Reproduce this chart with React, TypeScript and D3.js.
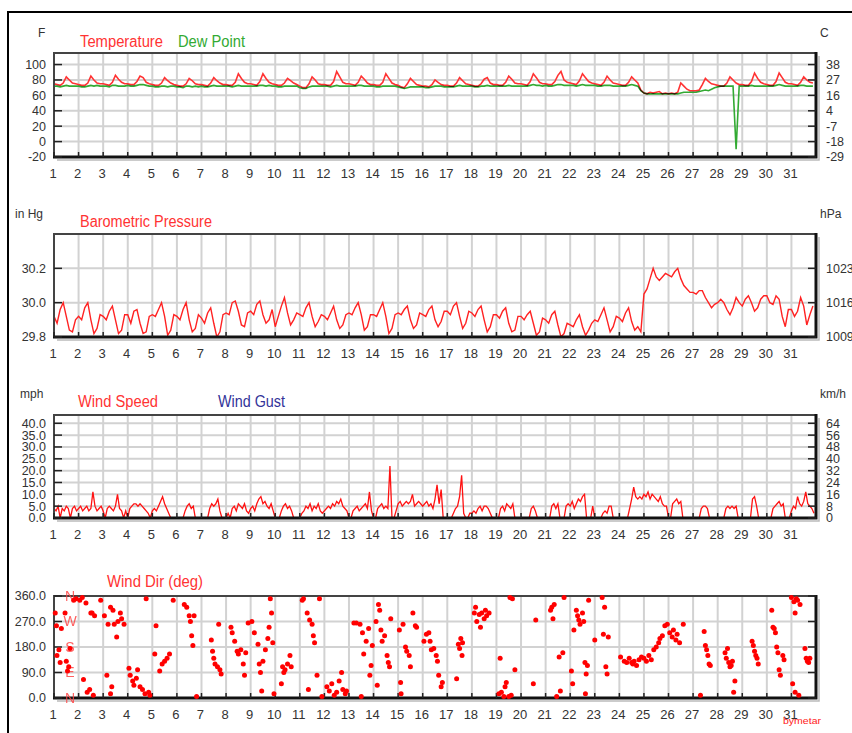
import React, { useEffect, useRef } from 'react';
import * as d3 from 'd3';

// one row per day, samples every 3 hours (0h..21h)
const tempF = [
  [75, 74, 73, 76, 84, 80, 76, 75],
  [74, 73, 73, 76, 85, 80, 76, 75],
  [75, 74, 73, 77, 86, 81, 77, 75],
  [75, 74, 74, 78, 85, 83, 77, 75],
  [74, 73, 73, 76, 83, 79, 76, 74],
  [73, 72, 72, 75, 82, 79, 75, 74],
  [74, 73, 72, 76, 83, 79, 76, 74],
  [74, 73, 73, 77, 88, 82, 77, 75],
  [75, 74, 73, 78, 88, 82, 77, 75],
  [74, 73, 73, 76, 82, 79, 76, 74],
  [72, 70, 70, 75, 84, 80, 75, 74],
  [74, 73, 73, 78, 91, 84, 77, 75],
  [75, 74, 73, 77, 85, 81, 76, 74],
  [74, 73, 73, 77, 88, 82, 76, 74],
  [73, 71, 70, 75, 82, 78, 74, 73],
  [72, 72, 71, 74, 80, 77, 74, 73],
  [73, 72, 72, 76, 83, 79, 75, 74],
  [73, 72, 72, 75, 81, 83, 76, 74],
  [74, 73, 73, 77, 85, 81, 76, 75],
  [75, 74, 73, 78, 88, 83, 77, 75],
  [75, 74, 74, 78, 86, 91, 80, 77],
  [76, 75, 74, 79, 88, 83, 78, 76],
  [75, 74, 73, 77, 85, 80, 76, 75],
  [74, 73, 73, 77, 84, 80, 76, 67],
  [63, 62, 64, 63, 64, 65, 62, 63],
  [62, 63, 62, 64, 76, 72, 68, 66],
  [66, 66, 67, 74, 82, 78, 75, 74],
  [73, 72, 72, 76, 84, 80, 76, 74],
  [74, 73, 73, 78, 89, 82, 77, 75],
  [74, 73, 73, 78, 89, 83, 77, 75],
  [75, 74, 73, 77, 84, 80, 77, 76],
];

const dewF = [
  [72, 72, 71, 72, 73, 72, 72, 72],
  [72, 71, 71, 72, 73, 72, 73, 72],
  [72, 72, 71, 73, 73, 72, 72, 72],
  [73, 72, 72, 73, 74, 74, 73, 72],
  [72, 71, 71, 72, 72, 71, 72, 72],
  [71, 71, 70, 72, 72, 71, 72, 71],
  [72, 71, 71, 72, 73, 72, 72, 72],
  [72, 72, 71, 72, 73, 72, 72, 72],
  [72, 72, 72, 73, 73, 72, 73, 72],
  [72, 71, 71, 72, 72, 72, 72, 72],
  [70, 69, 69, 71, 72, 72, 72, 72],
  [72, 72, 71, 72, 73, 72, 72, 72],
  [72, 72, 72, 73, 73, 72, 72, 72],
  [72, 71, 71, 72, 72, 72, 72, 72],
  [71, 70, 69, 70, 71, 71, 71, 71],
  [71, 70, 70, 71, 72, 72, 72, 71],
  [71, 71, 71, 72, 73, 72, 72, 72],
  [72, 71, 71, 72, 72, 73, 72, 72],
  [72, 72, 72, 72, 73, 72, 72, 72],
  [72, 72, 72, 73, 74, 73, 73, 72],
  [73, 72, 72, 73, 74, 74, 73, 73],
  [73, 73, 72, 73, 74, 73, 73, 73],
  [73, 72, 72, 73, 73, 73, 72, 72],
  [72, 72, 72, 73, 74, 73, 72, 66],
  [63, 62, 62, 62, 62, 62, 62, 62],
  [62, 62, 62, 62, 63, 64, 64, 64],
  [64, 64, 65, 66, 67, 66, 68, 70],
  [71, 72, 72, 72, 72, 72, -10, 72],
  [72, 72, 72, 73, 72, 72, 72, 72],
  [72, 72, 72, 73, 74, 73, 72, 72],
  [72, 72, 72, 73, 73, 72, 72, 72],
];

const pressureInHg = [
  [29.92, 29.88, 29.96, 30.0, 29.92, 29.84, 29.83, 29.9],
  [29.92, 29.9, 29.97, 30.0, 29.9, 29.82, 29.85, 29.93],
  [29.92, 29.9, 29.95, 29.98, 29.9, 29.82, 29.84, 29.93],
  [29.93, 29.88, 29.95, 29.96, 29.88, 29.82, 29.83, 29.92],
  [29.93, 29.92, 29.96, 30.0, 29.92, 29.81, 29.84, 29.93],
  [29.92, 29.9, 29.96, 30.0, 29.9, 29.83, 29.85, 29.93],
  [29.91, 29.88, 29.94, 29.97, 29.88, 29.8, 29.83, 29.93],
  [29.94, 29.93, 30.0, 30.01, 29.95, 29.87, 29.86, 29.94],
  [29.95, 29.93, 29.99, 30.01, 29.93, 29.88, 29.9, 29.96],
  [29.86, 29.92, 29.98, 30.03, 29.94, 29.87, 29.9, 29.94],
  [29.93, 29.92, 29.97, 30.0, 29.92, 29.86, 29.89, 29.93],
  [29.92, 29.9, 29.94, 29.98, 29.9, 29.85, 29.87, 29.93],
  [29.94, 29.93, 29.97, 30.0, 29.93, 29.84, 29.86, 29.93],
  [29.93, 29.92, 29.96, 30.0, 29.92, 29.82, 29.85, 29.93],
  [29.94, 29.93, 29.96, 29.98, 29.9, 29.85, 29.87, 29.94],
  [29.93, 29.92, 29.96, 29.98, 29.9, 29.86, 29.89, 29.95],
  [29.95, 29.93, 29.98, 30.0, 29.92, 29.85, 29.88, 29.95],
  [29.94, 29.92, 29.96, 29.98, 29.9, 29.83, 29.86, 29.93],
  [29.93, 29.91, 29.95, 29.97, 29.88, 29.83, 29.84, 29.92],
  [29.92, 29.9, 29.93, 29.95, 29.88, 29.81, 29.83, 29.91],
  [29.9, 29.88, 29.93, 29.95, 29.87, 29.8, 29.82, 29.88],
  [29.87, 29.86, 29.9, 29.93, 29.86, 29.81, 29.84, 29.88],
  [29.9, 29.89, 29.93, 29.97, 29.9, 29.83, 29.86, 29.92],
  [29.91, 29.89, 29.94, 29.97, 29.89, 29.84, 29.86, 29.83],
  [30.05, 30.08, 30.14, 30.2, 30.15, 30.13, 30.15, 30.17],
  [30.16, 30.15, 30.18, 30.2, 30.14, 30.1, 30.08, 30.06],
  [30.06, 30.05, 30.07, 30.07, 30.03, 30.0, 29.97, 29.99],
  [30.0, 30.02, 30.0, 29.96, 29.93, 29.97, 30.03, 30.0],
  [29.98, 30.02, 30.04, 30.0, 29.95, 29.97, 30.02, 30.04],
  [30.04, 30.0, 29.99, 30.04, 30.02, 29.92, 29.86, 29.96],
  [29.96, 29.92, 29.95, 30.03, 29.98, 29.87, 29.93, 29.98],
];

// one row per day, samples every 2 hours
const windMph = [
  [4, 3, 5, 0, 4, 3, 5, 4, 0, 4, 5, 3],
  [4, 5, 3, 4, 5, 3, 4, 11, 5, 3, 4, 5],
  [3, 0, 4, 5, 4, 3, 5, 10, 4, 3, 0, 3],
  [0, 4, 5, 6, 6, 5, 6, 5, 4, 3, 2, 0],
  [3, 4, 3, 5, 7, 9, 6, 4, 2, 0, 0, 0],
  [0, 0, 0, 0, 3, 5, 6, 4, 5, 0, 0, 0],
  [0, 0, 0, 0, 4, 6, 5, 6, 8, 3, 0, 0],
  [0, 2, 0, 4, 5, 3, 6, 5, 4, 6, 3, 2],
  [4, 5, 3, 6, 8, 9, 6, 7, 5, 4, 6, 3],
  [0, 0, 0, 3, 5, 6, 4, 5, 3, 0, 0, 0],
  [0, 2, 3, 5, 4, 6, 3, 5, 4, 6, 3, 2],
  [3, 4, 5, 4, 6, 5, 7, 6, 8, 5, 4, 3],
  [0, 0, 3, 4, 5, 3, 4, 5, 6, 4, 11, 3],
  [0, 0, 4, 5, 6, 4, 5, 4, 22, 0, 0, 3],
  [6, 7, 5, 6, 7, 6, 7, 10, 5, 6, 7, 6],
  [5, 6, 7, 5, 6, 4, 8, 14, 6, 12, 0, 0],
  [0, 0, 0, 2, 4, 5, 9, 18, 2, 0, 0, 2],
  [2, 3, 2, 4, 5, 3, 5, 5, 4, 2, 0, 0],
  [0, 0, 4, 5, 3, 6, 5, 4, 6, 0, 0, 0],
  [0, 0, 0, 0, 0, 4, 5, 3, 0, 0, 0, 0],
  [0, 0, 0, 5, 6, 4, 6, 0, 0, 0, 5, 6],
  [5, 7, 4, 6, 8, 7, 9, 10, 0, 0, 0, 5],
  [0, 0, 0, 0, 2, 3, 2, 5, 5, 0, 0, 0],
  [0, 0, 0, 0, 0, 4, 8, 13, 9, 8, 9, 8],
  [10, 9, 11, 8, 10, 9, 8, 7, 9, 6, 5, 5],
  [0, 0, 6, 7, 8, 6, 7, 0, 0, 0, 0, 0],
  [0, 0, 0, 0, 4, 5, 5, 4, 0, 0, 0, 0],
  [0, 0, 0, 0, 4, 5, 4, 5, 4, 5, 0, 0],
  [0, 0, 0, 0, 0, 8, 9, 5, 0, 0, 0, 0],
  [0, 0, 0, 4, 5, 6, 7, 5, 6, 0, 0, 0],
  [3, 5, 4, 9, 6, 5, 7, 11, 6, 5, 4, 2],
];

// [day, degrees]
const windDir: [number, number][] = [
  [1.05, 300], [1.1, 255], [1.12, 150], [1.2, 170], [1.25, 125], [1.3, 245], [1.45, 300], [1.5, 130], [1.55, 95], [1.6, 110], [1.65, 175], [1.8, 345], [1.9, 350],
  [2.05, 345], [2.15, 355], [2.3, 335], [2.5, 300], [2.55, 300], [2.65, 290], [2.2, 65], [2.35, 20], [2.45, 30], [2.6, 10], [2.9, 345],
  [3.05, 290], [3.15, 80], [3.2, 260], [3.3, 320], [3.4, 310], [3.45, 260], [3.55, 215], [3.6, 270], [3.7, 300], [3.75, 280], [3.85, 260], [3.35, 40], [3.3, 15],
  [4.05, 105], [4.1, 80], [4.2, 60], [4.25, 45], [4.35, 70], [4.4, 100], [4.5, 40], [4.6, 30], [4.7, 15], [4.75, 350], [4.85, 20], [4.9, 10],
  [5.1, 155], [5.15, 255], [5.3, 95], [5.4, 120], [5.5, 130], [5.6, 140], [5.7, 155], [5.85, 345],
  [6.3, 330], [6.4, 320], [6.5, 290], [6.55, 270], [6.6, 220], [6.65, 185], [6.7, 290], [6.8, 5],
  [7.4, 205], [7.45, 165], [7.5, 140], [7.55, 120], [7.65, 110], [7.75, 100], [7.8, 85], [7.7, 260],
  [8.2, 250], [8.25, 230], [8.35, 200], [8.45, 165], [8.5, 155], [8.6, 170], [8.7, 120], [8.75, 80], [8.8, 160], [8.9, 265],
  [9.05, 270], [9.15, 230], [9.3, 190], [9.35, 120], [9.4, 90], [9.5, 130], [9.6, 170], [9.7, 210], [9.75, 250], [9.8, 350], [9.85, 300], [9.9, 195], [9.95, 15], [9.45, 25],
  [10.25, 50], [10.3, 110], [10.35, 90], [10.4, 100], [10.5, 120], [10.6, 150], [10.65, 110],
  [11.1, 345], [11.15, 350], [11.3, 300], [11.4, 275], [11.5, 260], [11.55, 220], [11.6, 195], [11.7, 80], [11.8, 350], [11.9, 5], [11.35, 30],
  [12.1, 40], [12.2, 25], [12.3, 50], [12.4, 10], [12.5, 20], [12.6, 60], [12.7, 90], [12.75, 30], [12.85, 15], [12.9, 25],
  [13.2, 265], [13.3, 265], [13.45, 260], [13.55, 230], [13.6, 155], [13.7, 200], [13.8, 245], [13.85, 80], [13.9, 115], [13.95, 185], [13.5, 5],
  [14.1, 270], [14.2, 330], [14.25, 310], [14.3, 240], [14.35, 200], [14.45, 220], [14.55, 150], [14.6, 125], [14.65, 110], [14.7, 280], [14.15, 45],
  [15.05, 240], [15.1, 55], [15.12, 15], [15.2, 260], [15.3, 180], [15.35, 165], [15.45, 150], [15.5, 110], [15.6, 300], [15.7, 255], [15.75, 250],
  [16.05, 200], [16.15, 225], [16.25, 230], [16.3, 200], [16.35, 170], [16.45, 175], [16.55, 150], [16.6, 130], [16.65, 80], [16.75, 40], [16.8, 55],
  [17.38, 68], [17.45, 190], [17.5, 175], [17.55, 210], [17.6, 150], [17.62, 195],
  [18.1, 300], [18.15, 320], [18.2, 270], [18.3, 295], [18.35, 250], [18.4, 300], [18.5, 280], [18.55, 310], [18.6, 290], [18.7, 300],
  [19.1, 15], [19.2, 20], [19.3, 5], [19.35, 40], [19.4, 55], [19.5, 5], [19.6, 10], [19.15, 140], [19.75, 100], [19.55, 355], [19.65, 350],
  [20.5, 50], [20.6, 275],
  [21.2, 310], [21.25, 320], [21.3, 280], [21.35, 330], [21.45, 5], [21.55, 145], [21.6, 25], [21.7, 160], [21.75, 355],
  [22.05, 95], [22.1, 50], [22.15, 240], [22.25, 310], [22.3, 290], [22.35, 275], [22.4, 260], [22.5, 300], [22.55, 270], [22.6, 125], [22.65, 85], [22.7, 115], [22.62, 15], [22.75, 345],
  [23.0, 205], [23.3, 355], [23.4, 320], [23.35, 225], [23.55, 215], [23.45, 110], [23.5, 85],
  [24.05, 145], [24.2, 130], [24.3, 125], [24.4, 140], [24.5, 125], [24.55, 120], [24.6, 130], [24.7, 115], [24.8, 135], [24.9, 145],
  [25.0, 140], [25.1, 130], [25.2, 150], [25.3, 135], [25.4, 170], [25.5, 180], [25.6, 195], [25.65, 210], [25.75, 220], [25.85, 255], [25.95, 260],
  [26.05, 230], [26.15, 215], [26.2, 240], [26.3, 205], [26.35, 225], [26.45, 195], [26.6, 260],
  [27.3, 10], [27.45, 235], [27.5, 185], [27.55, 170], [27.6, 150], [27.65, 120], [27.7, 115],
  [28.3, 160], [28.35, 140], [28.4, 175], [28.45, 125], [28.5, 110], [28.6, 130], [28.7, 60], [28.65, 20], [28.55, 115],
  [29.4, 200], [29.45, 185], [29.5, 165], [29.6, 140], [29.65, 120], [29.55, 150],
  [30.2, 310], [30.25, 250], [30.3, 245], [30.35, 230], [30.4, 180], [30.45, 160], [30.5, 100], [30.55, 80], [30.65, 150], [30.7, 135],
  [31.0, 355], [31.1, 340], [31.15, 300], [31.2, 350], [31.25, 345], [31.35, 330], [31.05, 50], [31.15, 20], [31.3, 10], [31.55, 175], [31.6, 140], [31.65, 130], [31.7, 125], [31.75, 140],
];

const days = d3.range(1, 32);
const tempTicks = [-20, 0, 20, 40, 60, 80, 100];
const tempTicksC = ['-29', '-18', '-7', '4', '16', '27', '38'];
const pressTicks = [29.8, 30.0, 30.2];
const pressTicksHpa = ['1009', '1016', '1023'];
const windTicks = [0, 5, 10, 15, 20, 25, 30, 35, 40];
const windTicksKmh = ['0', '8', '16', '24', '32', '40', '48', '56', '64'];
const dirTicks = [0, 90, 180, 270, 360];
const compass = ['N', 'E', 'S', 'W', 'N'];

const FONT = 'Arial, "Liberation Sans", sans-serif';

const toPoints = (rows: number[][]) =>
  rows.flatMap((row, di) => row.map((v, i) => ({ t: di + 1 + i / row.length, v })));

export default function App() {
  const ref = useRef<SVGSVGElement>(null);

  useEffect(() => {
    if (!ref.current) return;
    const svg = d3.select(ref.current);
    svg.selectAll('*').remove();

    const x = d3.scaleLinear().domain([1, 32]).range([54, 816]);
    const left = x(1), right = x(32);

    // outer border
    svg.append('path').attr('d', `M8,733V12H852`).attr('fill', 'none').attr('stroke', '#000').attr('stroke-width', 2);

    const base = (id: string, y: d3.ScaleLinear<number, number>, grid: number[]) => {
      const [bottom, top] = y.range();
      const g = svg.append('g');
      g.append('rect').attr('x', left).attr('y', top).attr('width', right - left).attr('height', bottom - top).attr('fill', '#fff');
      g.selectAll('line.hg').data(grid.filter(t => y(t) > top + 1 && y(t) < bottom - 1)).join('line')
        .attr('x1', left).attr('x2', right).attr('y1', d => y(d)).attr('y2', d => y(d))
        .attr('stroke', '#d2d2d2').attr('stroke-width', 2);
      g.selectAll('line.vg').data(days.slice(1)).join('line')
        .attr('x1', d => x(d)).attr('x2', d => x(d)).attr('y1', top).attr('y2', bottom)
        .attr('stroke', '#d2d2d2').attr('stroke-width', 2);
      svg.append('clipPath').attr('id', id).append('rect')
        .attr('x', left).attr('y', top).attr('width', right - left).attr('height', bottom - top);
      return g.append('g').attr('clip-path', `url(#${id})`);
    };

    const frame = (y: d3.ScaleLinear<number, number>, ticks: number[], fmt: (v: number) => string, rightLabels: string[] | null) => {
      const [bottom, top] = y.range();
      const g = svg.append('g');
      g.append('path').attr('d', `M${left + 3},${bottom + 3}H${right + 3}V${top + 3}`).attr('fill', 'none').attr('stroke', '#bbb').attr('stroke-width', 1.5);
      g.append('path').attr('d', `M${left},${bottom}V${top}H${right}`).attr('fill', 'none').attr('stroke', '#444').attr('stroke-width', 2);
      g.append('path').attr('d', `M${left - 1},${bottom}H${right}V${top - 1}`).attr('fill', 'none').attr('stroke', '#111').attr('stroke-width', 3);
      g.selectAll('line.lt').data(ticks).join('line')
        .attr('x1', left).attr('x2', left + 8).attr('y1', d => y(d)).attr('y2', d => y(d))
        .attr('stroke', '#222').attr('stroke-width', 1.5);
      g.selectAll('line.rt').data(ticks).join('line')
        .attr('x1', right).attr('x2', right - 8).attr('y1', d => y(d)).attr('y2', d => y(d))
        .attr('stroke', '#222').attr('stroke-width', 1.5);
      g.selectAll('line.bt').data(days).join('line')
        .attr('x1', d => x(d)).attr('x2', d => x(d)).attr('y1', bottom).attr('y2', bottom - 5)
        .attr('stroke', '#222').attr('stroke-width', 1.5);
      g.selectAll('text.yl').data(ticks).join('text')
        .attr('x', 46).attr('y', d => y(d)).attr('dy', '0.35em').attr('text-anchor', 'end')
        .attr('font-family', FONT).attr('font-size', 12.5).attr('fill', '#333').text(d => fmt(d));
      if (rightLabels) {
        g.selectAll('text.yr').data(ticks).join('text')
          .attr('x', 826).attr('y', d => y(d)).attr('dy', '0.35em')
          .attr('font-family', FONT).attr('font-size', 12.5).attr('fill', '#333').text((d, i) => rightLabels[i]);
      }
      g.selectAll('text.xl').data(days).join('text')
        .attr('x', d => x(d) - 1).attr('y', bottom + 21).attr('text-anchor', 'middle')
        .attr('font-family', FONT).attr('font-size', 13).attr('fill', '#333').text(d => d);
    };

    const label = (tx: number, ty: number, s: string, fill = '#333', size = 12, len?: number) => {
      const t = svg.append('text').attr('x', tx).attr('y', ty).attr('font-family', FONT)
        .attr('font-size', size).attr('fill', fill).text(s);
      if (len) t.attr('textLength', len).attr('lengthAdjust', 'spacingAndGlyphs');
    };

    const lineOf = (y: d3.ScaleLinear<number, number>) =>
      d3.line<{ t: number; v: number }>().x(d => x(d.t)).y(d => y(d.v));

    // temperature / dew point
    const yT = d3.scaleLinear().domain([-20, 115]).range([157, 53]);
    const gT = base('clipT', yT, tempTicks);
    gT.append('path').attr('d', lineOf(yT)(toPoints(dewF))).attr('fill', 'none').attr('stroke', '#33aa33').attr('stroke-width', 1.6);
    gT.append('path').attr('d', lineOf(yT)(toPoints(tempF))).attr('fill', 'none').attr('stroke', '#ff3333').attr('stroke-width', 1.6)
      .style('mix-blend-mode', 'multiply');
    frame(yT, tempTicks, d => String(d), tempTicksC);
    label(38, 37, 'F');
    label(820, 37, 'C');
    label(80, 47, 'Temperature', '#ff3333', 16, 83);
    label(178, 47, 'Dew Point', '#33aa33', 16, 67);

    // pressure
    const yP = d3.scaleLinear().domain([29.8, 30.4]).range([337, 234]);
    const gP = base('clipP', yP, [29.8, 30.0, 30.2, 30.4]);
    gP.append('path').attr('d', lineOf(yP)(toPoints(pressureInHg))).attr('fill', 'none').attr('stroke', '#ff2222').attr('stroke-width', 1.4);
    frame(yP, pressTicks, d => d.toFixed(1), pressTicksHpa);
    label(15, 218, 'in Hg');
    label(820, 218, 'hPa');
    label(80, 227, 'Barometric Pressure', '#ff3333', 16, 132);

    // wind speed
    const yW = d3.scaleLinear().domain([0, 43.5]).range([518, 415]);
    const gW = base('clipW', yW, windTicks);
    gW.append('path').attr('d', lineOf(yW)(toPoints(windMph))).attr('fill', 'none').attr('stroke', '#ff1111').attr('stroke-width', 1.3);
    frame(yW, windTicks, d => d.toFixed(1), windTicksKmh);
    label(20, 398, 'mph');
    label(820, 398, 'km/h');
    label(78, 407, 'Wind Speed', '#ff3333', 16, 80);
    label(218, 407, 'Wind Gust', '#333399', 16, 67);

    // wind direction
    const yD = d3.scaleLinear().domain([0, 360]).range([698, 596]);
    base('clipD', yD, dirTicks);
    frame(yD, dirTicks, d => d.toFixed(1), null);
    svg.append('g').selectAll('text').data(dirTicks).join('text')
      .attr('x', 70).attr('y', d => yD(d)).attr('dy', '0.35em').attr('text-anchor', 'middle')
      .attr('font-family', FONT).attr('font-size', 14).attr('fill', '#ff4444').attr('opacity', 0.85)
      .text((d, i) => compass[i]);
    svg.append('g').selectAll('circle').data(windDir).join('circle')
      .attr('cx', d => x(d[0])).attr('cy', d => yD(d[1])).attr('r', 2.5).attr('fill', '#ff0000');
    label(107, 587, 'Wind Dir (deg)', '#ff3333', 16, 96);
    label(783, 724, 'bymetar', '#ff2222', 9, 38);
  }, []);

  return (
    <svg ref={ref} width={852} height={733}
      style={{ position: 'absolute', left: 0, top: 0, background: '#fff' }} />
  );
}
